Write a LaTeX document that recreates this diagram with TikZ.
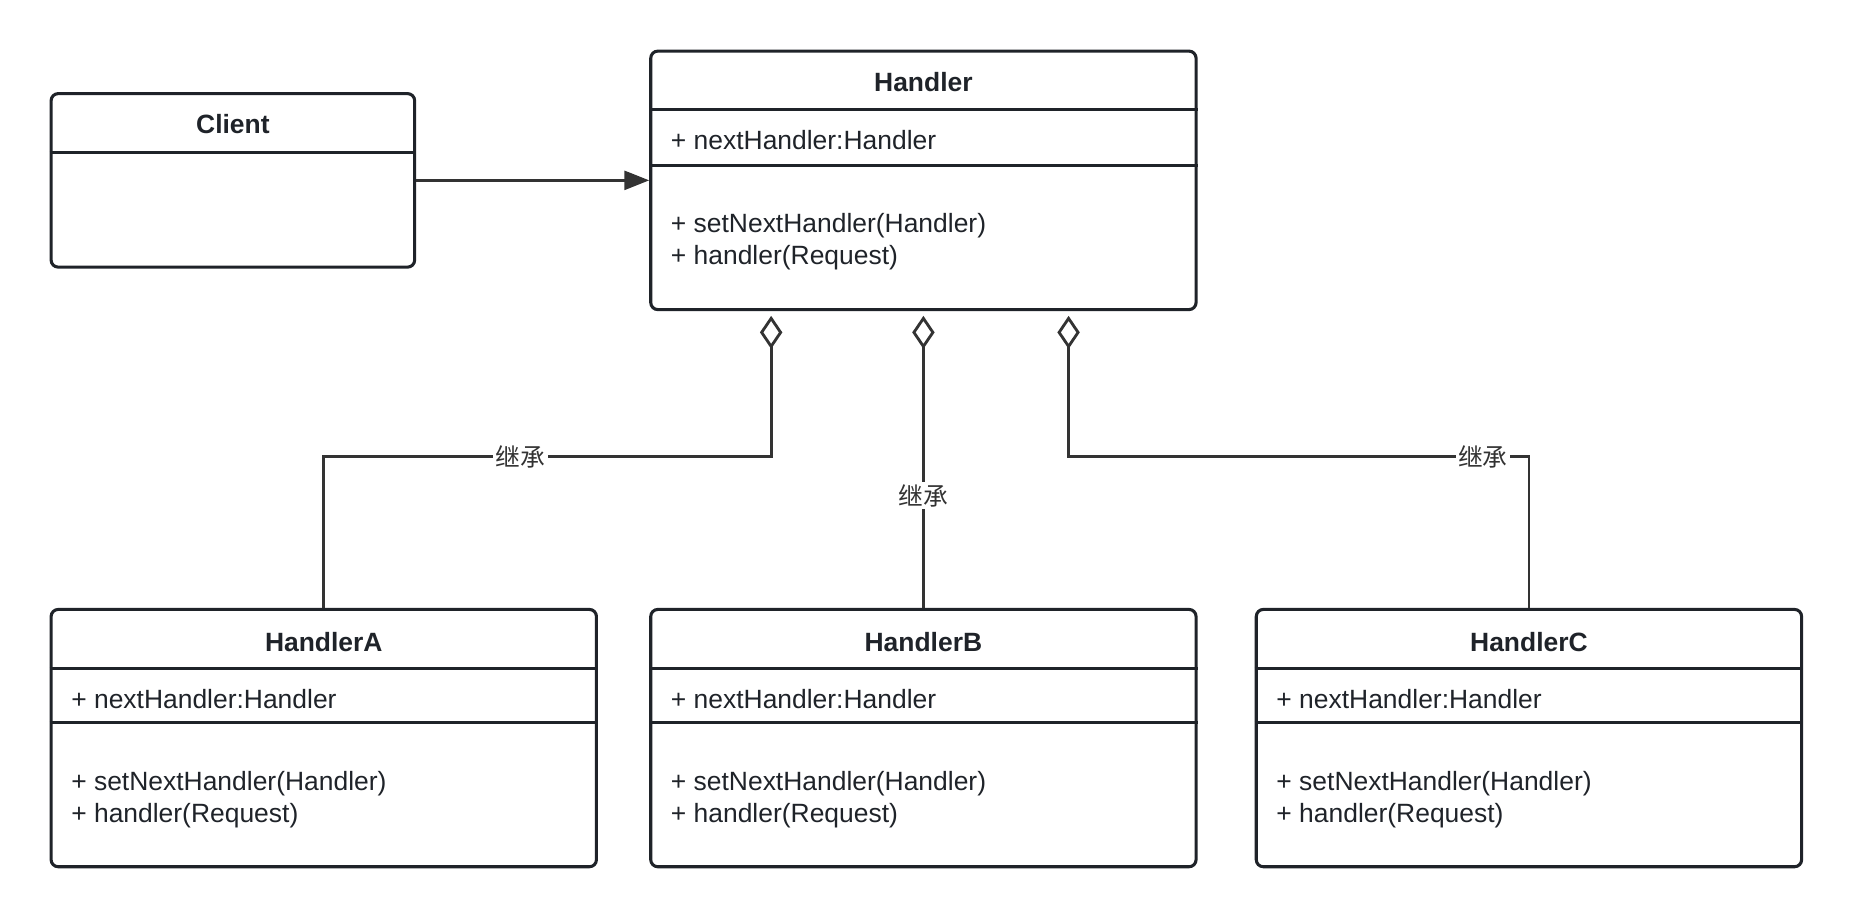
\documentclass[tikz,border=0pt]{standalone}
\usepackage{fontspec}
\setmainfont{Liberation Sans}
\newfontfamily\cjk{Noto Sans CJK SC}
\usetikzlibrary{arrows.meta}
\definecolor{boxline}{HTML}{1F2329}
\definecolor{linkline}{HTML}{333333}
\newcommand{\diagfont}{\fontsize{11.2}{13.5}\selectfont}

\begin{document}
\begin{tikzpicture}
		[x=0.5pt, y=-0.5pt,
		classbox/.style={draw=boxline, line width=1.3pt, rounded corners=3pt, anchor=north west, inner sep=0pt, minimum width=231pt, minimum height=109.5pt},
		divider/.style={draw=boxline, line width=1.3pt},
		title/.style={font=\diagfont\bfseries, text=boxline},
		member/.style={font=\diagfont, anchor=west, inner sep=0pt, text=boxline},
		link/.style={draw=linkline, line width=1.2pt},
		assoc/.style={link, -{Triangle[length=10.5pt, width=8pt]}},
		aggr/.style={link, -{Diamond[open, length=14pt, width=9.5pt]}},
		tag/.style={font=\cjk\fontsize{10.5}{12}\selectfont, fill=white, inner sep=1pt, text=linkline}]
		\useasboundingbox (0,0) rectangle (1569,776);

		% client
		\node[classbox, minimum width=154pt, minimum height=73.5pt] (client) at (42,78) {};
		\draw[divider] ([yshift=-25.5pt]client.north west) -- ([yshift=-25.5pt]client.north east);
		\node[title] (client-title) at ([yshift=-13.75pt]client.north) {Client};

		% handler
		\node[classbox] (handler) at (550,42) {};
		\draw[divider] ([yshift=-25.5pt]handler.north west) -- ([yshift=-25.5pt]handler.north east);
		\draw[divider] ([yshift=-49pt]handler.north west) -- ([yshift=-49pt]handler.north east);
		\node[title] (handler-title) at ([yshift=-13.75pt]handler.north) {Handler};
		\node[member] (handler-attr) at ([xshift=9pt, yshift=-38.5pt]handler.north west) {+ nextHandler:Handler};
		\node[member] (handler-set) at ([xshift=9pt, yshift=-74.5pt]handler.north west) {+ setNextHandler(Handler)};
		\node[member] (handler-req) at ([xshift=9pt, yshift=-88pt]handler.north west) {+ handler(Request)};

		% concrete handlers
		\foreach \name/\x in {A/42, B/550, C/1063} {
			\node[classbox, minimum height=109pt] (handler\name) at (\x,515) {};
			\draw[divider] ([yshift=-25.5pt]handler\name.north west) -- ([yshift=-25.5pt]handler\name.north east);
			\draw[divider] ([yshift=-48.5pt]handler\name.north west) -- ([yshift=-48.5pt]handler\name.north east);
			\node[title] (handler\name-title) at ([yshift=-14.5pt]handler\name.north) {Handler\name};
			\node[member] (handler\name-attr) at ([xshift=9pt, yshift=-38.5pt]handler\name.north west) {+ nextHandler:Handler};
			\node[member] (handler\name-set) at ([xshift=9pt, yshift=-74.5pt]handler\name.north west) {+ setNextHandler(Handler)};
			\node[member] (handler\name-req) at ([xshift=9pt, yshift=-88pt]handler\name.north west) {+ handler(Request)};
		}

		\coordinate (aggA) at ([xshift=-64.5pt, yshift=-2pt]handler.south);
		\coordinate (aggC) at ([xshift=61.5pt, yshift=-2pt]handler.south);

		\draw[assoc] (client.east) -- (client.east -| handler.west);
		\draw[aggr] (handlerA.north) -- ++(0,-128) -| node[tag, pos=0.22] {继承} (aggA);
		\draw[aggr] (handlerB.north) -- node[tag, pos=0.385] {继承} ([yshift=-2pt]handlerB.north |- handler.south);
		\draw[aggr] (handlerC.north) -- ++(0,-128) -| node[tag, pos=0.05] {继承} (aggC);
	\end{tikzpicture}
\end{document}
